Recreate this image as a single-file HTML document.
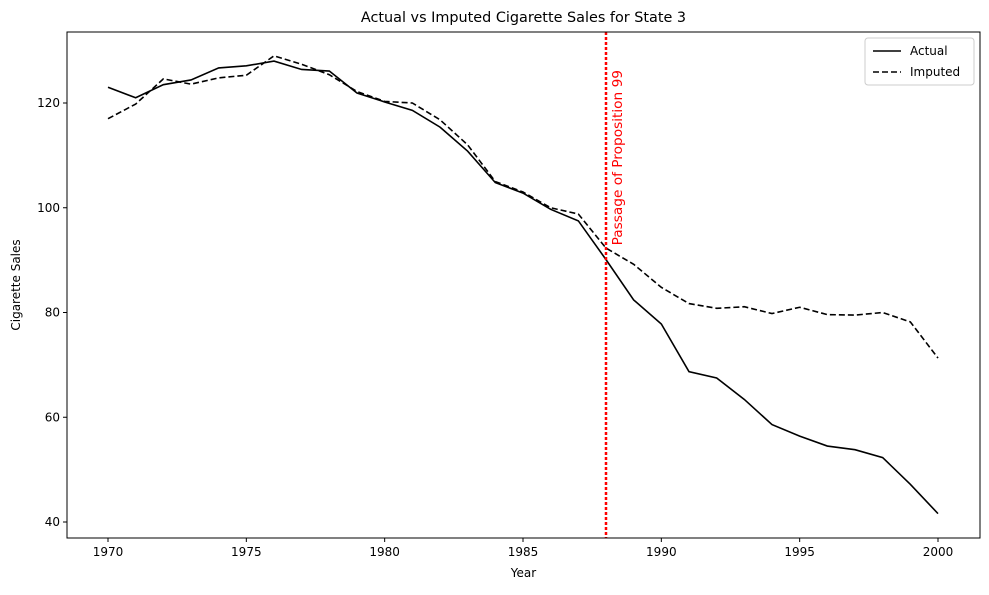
<!DOCTYPE html>
<html><head><meta charset="utf-8"><style>
body{margin:0;background:#fff;}
svg{font-family:"DejaVu Sans","Liberation Sans",sans-serif;}
</style></head><body>
<svg id="c" width="989" height="590"></svg>
<script>
const years=[1970,1971,1972,1973,1974,1975,1976,1977,1978,1979,1980,1981,1982,1983,1984,1985,1986,1987,1988,1989,1990,1991,1992,1993,1994,1995,1996,1997,1998,1999,2000];
const actual=[123,121,123.5,124.4,126.7,127.1,128,126.4,126.1,121.9,120.2,118.6,115.4,110.8,104.8,102.8,99.7,97.5,90.1,82.4,77.8,68.7,67.5,63.4,58.6,56.4,54.5,53.8,52.3,47.2,41.6];
const imputed=[117,119.8,124.6,123.6,124.8,125.3,129,127.4,125.4,122.2,120.3,120,116.8,112,105,103,100,98.8,92.3,89.2,84.8,81.7,80.8,81.1,79.8,81,79.6,79.5,80,78.2,71.3];
const xTicks=[1970,1975,1980,1985,1990,1995,2000];
const yTicks=[40,60,80,100,120];
const eventYear=1988;
const NS="http://www.w3.org/2000/svg";
const svg=document.getElementById('c');
const L=67,R=980,T=32,B=538;
const x=v=>108+(v-1970)*(830/30);
const y=v=>103-(v-120)*(419/80);
function mk(tag,attrs,parent){const e=document.createElementNS(NS,tag);for(const k in attrs)e.setAttribute(k,attrs[k]);(parent||svg).appendChild(e);return e;}
function txt(s,attrs){const e=mk('text',attrs);e.textContent=s;return e;}
let t=txt('Actual vs Imputed Cigarette Sales for State 3',{x:(L+R)/2,y:22,'text-anchor':'middle','font-size':14.4});


xTicks.forEach(v=>{const l=mk('line',{x1:x(v),x2:x(v),y1:B,y2:B+4,stroke:'#000'});


const tt=txt(v,{x:x(v),y:B+18,'text-anchor':'middle','font-size':12});

});
yTicks.forEach(v=>{const l=mk('line',{x1:L-4,x2:L,y1:y(v),y2:y(v),stroke:'#000'});


const tt=txt(v,{x:L-7,y:y(v)+4,'text-anchor':'end','font-size':12});

});
t=txt('Year',{x:(L+R)/2,y:577,'text-anchor':'middle','font-size':12});


t=txt('Cigarette Sales',{x:20,y:(T+B)/2,'text-anchor':'middle','font-size':12,transform:`rotate(-90 20 ${(T+B)/2})`});


const pa=mk('polyline',{points:years.map((yr,i)=>x(yr)+','+y(actual[i])).join(' '),fill:'none',stroke:'#000','stroke-width':1.6});


const pi=mk('polyline',{points:years.map((yr,i)=>x(yr)+','+y(imputed[i])).join(' '),fill:'none',stroke:'#000','stroke-width':1.6,'stroke-dasharray':'6,3'});


const ev=mk('line',{x1:x(eventYear),x2:x(eventYear),y1:T,y2:B,stroke:'red','stroke-width':2.5,'stroke-dasharray':'3,2'});


const ex=x(eventYear)+16;
t=txt('Passage of Proposition 99',{x:ex,y:70,'text-anchor':'end','font-size':13.7,fill:'red',transform:`rotate(-90 ${ex} 70)`});


const fr=mk('rect',{x:L,y:T,width:R-L,height:B-T,fill:'none',stroke:'#000','stroke-width':1});


const lg=mk('g',{});


mk('rect',{x:865,y:38,width:109,height:47,rx:3,fill:'#fff',stroke:'#ccc'},lg);
mk('line',{x1:873,x2:901,y1:51,y2:51,stroke:'#000','stroke-width':1.6},lg);
mk('line',{x1:873,x2:901,y1:72,y2:72,stroke:'#000','stroke-width':1.6,'stroke-dasharray':'6,3'},lg);
const a=mk('text',{x:910,y:55,'font-size':12},lg);a.textContent='Actual';
const b=mk('text',{x:910,y:76,'font-size':12},lg);b.textContent='Imputed';
</script>
</body></html>
